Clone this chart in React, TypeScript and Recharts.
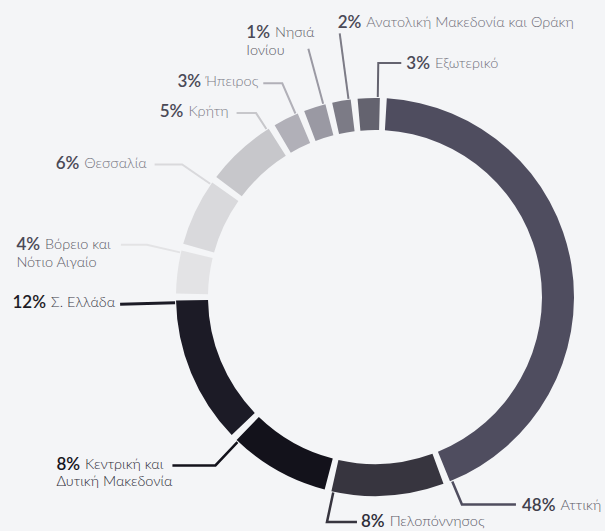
import { PieChart, Pie, Cell } from 'recharts';

// region names, split where the label wraps
const NAME_LINES: string[][] = [
  ['Αττική'],
  ['Πελοπόννησος'],
  ['Κεντρική και', 'Δυτική Μακεδονία'],
  ['Σ. Ελλάδα'],
  ['Βόρειο και', 'Νότιο Αιγαίο'],
  ['Θεσσαλία'],
  ['Κρήτη'],
  ['Ήπειρος'],
  ['Νησιά', 'Ιονίου'],
  ['Ανατολική Μακεδονία και Θράκη'],
  ['Εξωτερικό'],
];

// percentages as printed on the labels
const PERCENT_LABELS = ['48%', '8%', '8%', '12%', '4%', '6%', '5%', '3%', '1%', '2%', '3%'];

// share of the ring each arc takes in the picture (not identical to the printed numbers)
const ARC_SHARE = [45.7, 9.7, 8.7, 12.7, 3.7, 5.8, 6.1, 2.2, 1.9, 1.6, 1.9];

const COLORS = [
  '#4f4d5f', '#37353f', '#13121b', '#1c1b26', '#e3e3e5', '#d9d9dc',
  '#c7c7cb', '#b1b0b8', '#9a99a3', '#7c7b86', '#64636f',
];

const PCT_COLORS = [
  '#3f3e4b', '#2f2e39', '#15141c', '#1c1b25', '#4a4956', '#4a4956',
  '#4a4956', '#4a4956', '#4a4956', '#4a4956', '#4a4956',
];

const NAME_COLORS = [
  '#5a5966', '#5a5966', '#2c2b36', '#3a3946', '#5b5a66', '#73727d',
  '#7a7985', '#7a7985', '#5b5a66', '#6e6d78', '#72717c',
];

const data = NAME_LINES.map((lines, i) => ({
  name: lines.join(' '),
  value: ARC_SHARE[i],
}));

// leader layout: radial length r, then horizontal run h; text offset from the line end
type Leader = { r: number; h: number; dx: number; dy: number; anchor: 'start' | 'end'; lh?: number; w: number };
const LEADERS: Leader[] = [
  { r: 225, h: 54, dx: 6, dy: -1, anchor: 'start', w: 2.5 },
  { r: 230, h: 30, dx: 4, dy: -2, anchor: 'start', w: 2.5 },
  { r: 232, h: -43, dx: -116, dy: -2.5, anchor: 'start', lh: 18, w: 2.5 },
  { r: 255, h: 0, dx: -5, dy: -3.5, anchor: 'end', w: 3 },
  { r: 234, h: -26, dx: -104.5, dy: -2, anchor: 'start', lh: 19, w: 2 },
  { r: 234, h: -27.5, dx: -8, dy: -2, anchor: 'end', w: 2 },
  { r: 219, h: -19.5, dx: -8, dy: -2.7, anchor: 'end', w: 2 },
  { r: 233, h: -19, dx: -5, dy: -3.4, anchor: 'end', w: 2 },
  { r: 257, h: 0, dx: -62, dy: -18, anchor: 'start', lh: 19, w: 2 },
  { r: 266, h: 0, dx: -2, dy: -12, anchor: 'start', w: 2 },
  { r: 234, h: 23, dx: 5, dy: -1, anchor: 'start', w: 2 },
];

const FONT = 'Lato, "Noto Sans", sans-serif';

function renderLabel(props: any) {
  const { cx, cy, outerRadius, endAngle, index } = props;
  const L = LEADERS[index];
  const a = ((endAngle + 0.6) * Math.PI) / 180;
  const x0 = cx + (outerRadius + 1) * Math.cos(-a);
  const y0 = cy + (outerRadius + 1) * Math.sin(-a);
  const x1 = cx + L.r * Math.cos(-a);
  const y1 = cy + L.r * Math.sin(-a);
  const x2 = x1 + L.h;
  const y2 = y1;
  const lines = NAME_LINES[index];
  const tx = x2 + L.dx;
  const ty = y2 + L.dy;
  return (
    <g key={`lbl-${index}`}>
      <polyline
        points={`${x0},${y0} ${x1},${y1} ${x2},${y2}`}
        fill="none"
        stroke={COLORS[index]}
        strokeWidth={L.w}
      />
      <text x={tx} y={ty} textAnchor={L.anchor} dominantBaseline="central" fontFamily={FONT}>
        <tspan fontSize={17} fontWeight={600} fill={PCT_COLORS[index]}>{PERCENT_LABELS[index]}</tspan>
        <tspan dx={5} fontSize={14.5} fontWeight={300} fill={NAME_COLORS[index]}>{lines[0]}</tspan>
      </text>
      {lines[1] && (
        <text x={tx} y={ty + (L.lh ?? 18)} textAnchor="start" dominantBaseline="central" fontFamily={FONT}
          fontSize={14.5} fontWeight={300} fill={NAME_COLORS[index]}>
          {lines[1]}
        </text>
      )}
    </g>
  );
}

export default function App() {
  return (
    <div style={{ position: 'fixed', left: 0, top: 0, width: 605, height: 531, background: '#f4f5f7' }}>
      <PieChart width={605} height={531} margin={{ top: 0, right: 0, bottom: 0, left: 0 }}>
        <Pie
          data={data}
          dataKey="value"
          cx={375}
          cy={297}
          innerRadius={167}
          outerRadius={199}
          startAngle={86.6}
          endAngle={-273.4}
          paddingAngle={2}
          stroke="none"
          label={renderLabel}
          labelLine={false}
          isAnimationActive={false}
        >
          {data.map((d, i) => (
            <Cell key={d.name} fill={COLORS[i]} />
          ))}
        </Pie>
      </PieChart>
    </div>
  );
}
